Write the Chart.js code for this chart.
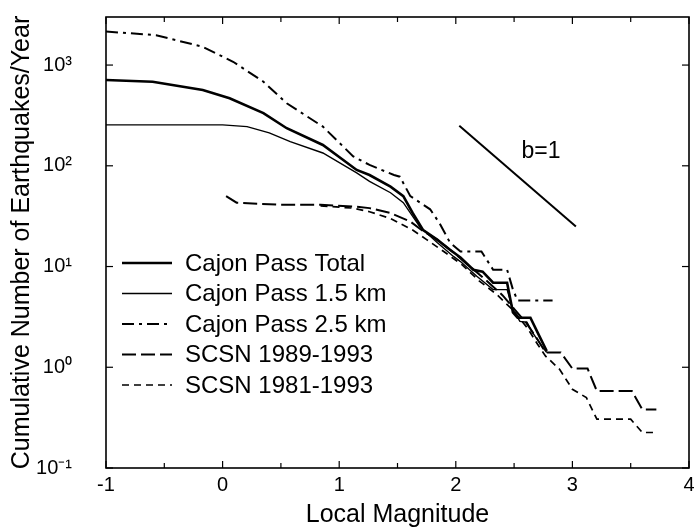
<!DOCTYPE html>
<html>
<head>
<meta charset="utf-8">
<script src="https://cdn.jsdelivr.net/npm/chart.js@4.4.0/dist/chart.umd.min.js"></script>
<style>
html,body{margin:0;padding:0;background:#fff;}
#wrap{width:694px;height:531px;position:relative;}
</style>
</head>
<body>
<div id="wrap"><canvas id="c" width="694" height="531"></canvas></div>
<script>
// ---------------- DATA ----------------
const xTickValues = [-1, 0, 1, 2, 3, 4];
const yTickValues = [0.1, 1, 10, 100, 1000];
const yTickLabels = ['10\u207B\u00B9', '10\u2070', '10\u00B9', '10\u00B2', '10\u00B3'];

const seriesNames = ['Cajon Pass Total', 'Cajon Pass 1.5 km', 'Cajon Pass 2.5 km', 'SCSN 1989-1993', 'SCSN 1981-1993'];

const magTotal = [-1, -0.6, -0.17, 0.06, 0.35, 0.55, 0.86, 1.15, 1.26, 1.44, 1.55, 1.63, 1.72, 1.84, 1.95, 2.04, 2.15, 2.23, 2.32, 2.44, 2.49, 2.53, 2.64, 2.72, 2.78];
const valTotal = [710, 683, 565, 468, 333, 236, 161, 91, 81, 62, 50, 34, 23, 18.5, 14.7, 12.3, 9.3, 8.9, 6.9, 6.9, 3.5, 3.1, 3.1, 2.0, 1.45];

const mag15 = [-1, 0.0, 0.21, 0.4, 0.58, 0.86, 1.15, 1.26, 1.44, 1.55, 1.69, 1.84, 1.98, 2.04, 2.18, 2.32, 2.44, 2.49, 2.55, 2.61, 2.66, 2.74, 2.78];
const val15 = [255, 255, 245, 212, 174, 134, 85, 70, 54, 43, 24.9, 17.3, 12.6, 11.2, 8.0, 5.9, 5.9, 3.75, 2.85, 2.8, 2.2, 1.6, 1.4];

const mag25 = [-1, -0.57, -0.17, 0.09, 0.35, 0.55, 0.86, 1.12, 1.26, 1.47, 1.52, 1.61, 1.78, 1.86, 1.95, 2.04, 2.22, 2.32, 2.44, 2.49, 2.53, 2.83];
const val25 = [2150, 1980, 1517, 1078, 684, 417, 245, 124, 102, 81, 78, 50, 37, 27, 17.3, 14.1, 14.1, 9.3, 9.3, 5.9, 4.6, 4.6];

const magScsn8993 = [0.03, 0.12, 0.5, 0.84, 1.12, 1.26, 1.44, 1.61, 1.72, 1.84, 1.98, 2.1, 2.25, 2.4, 2.5, 2.6, 2.7, 2.77, 2.9, 3.0, 3.13, 3.21, 3.51, 3.6, 3.72];
const valScsn8993 = [50, 43, 41, 41, 39.5, 38, 34, 28, 22.4, 18.5, 13.8, 10.5, 7.5, 5.2, 3.8, 2.8, 1.9, 1.4, 1.4, 0.97, 0.97, 0.58, 0.58, 0.38, 0.38];

const magScsn8193 = [0.84, 1.12, 1.26, 1.44, 1.63, 1.75, 1.9, 2.05, 2.2, 2.35, 2.5, 2.62, 2.7, 2.77, 2.89, 3.0, 3.12, 3.21, 3.5, 3.6, 3.7];
const valScsn8193 = [40, 38, 35, 30, 23, 18.5, 14, 10.5, 7.2, 5.3, 3.6, 2.4, 1.7, 1.29, 0.955, 0.605, 0.5, 0.305, 0.305, 0.225, 0.225];

const magSlope = [2.03, 3.03];
const valSlope = [250, 25];
const slopeLabel = 'b=1';
const slopeLabelMag = 2.73;
const slopeLabelVal = 138;

const xTitle = 'Local Magnitude';
const yTitle = 'Cumulative Number of Earthquakes/Year';

// ---------------- BUILD ----------------
const FONT = '"Liberation Sans", Arial, Helvetica, sans-serif';
function pts(xs, ys) { return xs.map((x, i) => ({x: x, y: ys[i]})); }

const datasets = [
  {label: seriesNames[0], data: pts(magTotal, valTotal), borderWidth: 2.6, borderDash: []},
  {label: seriesNames[1], data: pts(mag15, val15), borderWidth: 1.4, borderDash: []},
  {label: seriesNames[2], data: pts(mag25, val25), borderWidth: 2.0, borderDash: [12, 5, 3, 5]},
  {label: seriesNames[3], data: pts(magScsn8993, valScsn8993), borderWidth: 2.0, borderDash: [14, 5]},
  {label: seriesNames[4], data: pts(magScsn8193, valScsn8193), borderWidth: 1.7, borderDash: [7, 5]},
  {label: slopeLabel, data: pts(magSlope, valSlope), borderWidth: 2.0, borderDash: [], noLegend: true}
].map(d => Object.assign({borderColor: '#000', backgroundColor: '#000', pointRadius: 0, tension: 0, fill: false}, d));

const decorPlugin = {
  id: 'decor',
  afterDatasetsDraw(chart) {
    const ctx = chart.ctx, a = chart.chartArea, xs = chart.scales.x, ys = chart.scales.y;
    ctx.save();
    ctx.strokeStyle = '#000';
    ctx.fillStyle = '#000';
    ctx.setLineDash([]);
    ctx.lineWidth = 1.6;
    ctx.strokeRect(a.left, a.top, a.right - a.left, a.bottom - a.top);
    function seg(x1, y1, x2, y2) { ctx.beginPath(); ctx.moveTo(x1, y1); ctx.lineTo(x2, y2); ctx.stroke(); }
    ctx.lineWidth = 1.2;
    for (let k = 0; k <= 10; k++) {
      const v = -1 + k * 0.5;
      const px = xs.getPixelForValue(v);
      const len = (k % 2 === 0) ? 7 : 5;
      seg(px, a.bottom, px, a.bottom - len);
      seg(px, a.top, px, a.top + len);
    }
    yTickValues.forEach(v => {
      const py = ys.getPixelForValue(v);
      seg(a.left, py, a.left + 7, py);
      seg(a.right, py, a.right - 7, py);
    });
    // slope annotation text
    ctx.font = '23px ' + FONT;
    ctx.textAlign = 'center';
    ctx.textBaseline = 'middle';
    ctx.fillText(slopeLabel, xs.getPixelForValue(slopeLabelMag), ys.getPixelForValue(slopeLabelVal));
    // legend inside the plot
    const lx1 = 122, lx2 = 172, tx = 185, y0 = 263, dy = 30.5;
    ctx.font = '24px ' + FONT;
    ctx.textAlign = 'left';
    let row = 0;
    chart.data.datasets.forEach(d => {
      if (d.noLegend) return;
      const yy = y0 + row * dy;
      ctx.lineWidth = d.borderWidth;
      ctx.setLineDash(d.borderDash || []);
      seg(lx1, yy, lx2, yy);
      ctx.setLineDash([]);
      ctx.fillText(d.label, tx, yy + 1);
      row++;
    });
    ctx.restore();
  }
};

new Chart(document.getElementById('c'), {
  type: 'line',
  data: {datasets: datasets},
  plugins: [decorPlugin],
  options: {
    responsive: false,
    animation: false,
    devicePixelRatio: 1,
    layout: {padding: {top: 17, right: 5, left: 0, bottom: 0}},
    plugins: {legend: {display: false}, tooltip: {enabled: false}},
    scales: {
      x: {
        type: 'linear', min: -1, max: 4,
        afterBuildTicks: s => { s.ticks = xTickValues.map(v => ({value: v})); },
        afterFit: s => { s.height = 63; s.paddingLeft = 0; s.paddingRight = 0; s.paddingTop = 0; s.paddingBottom = 0; },
        grid: {display: false, drawTicks: false},
        border: {display: false},
        ticks: {color: '#000', font: {family: FONT, size: 20}, padding: 5, autoSkip: false, maxRotation: 0,
                callback: v => String(v)},
        title: {display: true, text: xTitle, color: '#000', font: {family: FONT, size: 25}, padding: {top: 0, bottom: 1}}
      },
      y: {
        type: 'logarithmic', min: 0.1, max: 3000,
        afterBuildTicks: s => { s.ticks = yTickValues.map(v => ({value: v})); },
        afterFit: s => { s.width = 106; s.paddingTop = 0; s.paddingBottom = 0; s.paddingLeft = 0; s.paddingRight = 0; },
        grid: {display: false, drawTicks: false},
        border: {display: false},
        ticks: {color: '#000', font: {family: FONT, size: 20}, padding: 34, autoSkip: false,
                callback: v => { const i = yTickValues.indexOf(v); return i >= 0 ? yTickLabels[i] : ''; }},
        title: {display: true, text: yTitle, color: '#000', font: {family: FONT, size: 25}, padding: {top: 7, bottom: 0}}
      }
    }
  }
});
</script>
</body>
</html>
